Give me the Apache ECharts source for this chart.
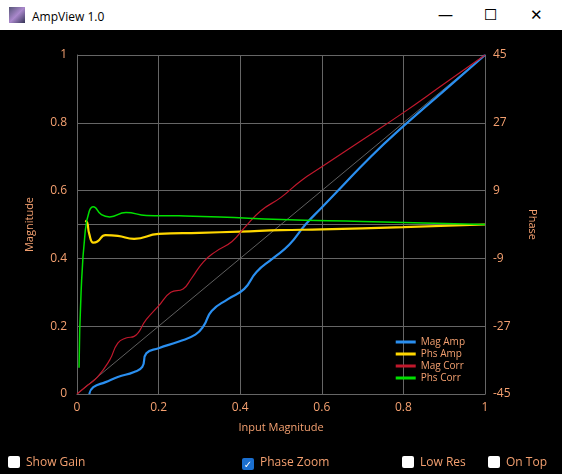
<!DOCTYPE html>
<html><head><meta charset="utf-8">
<script src="https://cdn.jsdelivr.net/npm/echarts@6/dist/echarts.min.js"></script>
<style>
body{margin:0;width:562px;height:474px;overflow:hidden;background:#000;font-family:"Open Sans","DejaVu Sans",sans-serif;}
#bar{position:absolute;left:0;top:0;width:562px;height:30px;background:#fff;color:#000;font-size:12px;}
#bar .t{position:absolute;left:32px;top:8px;}
#bar .ic{position:absolute;left:9px;top:7px;width:16px;height:16px;background:linear-gradient(135deg,#557,#a8c 50%,#335);}
#bar .b{position:absolute;top:4px;font-size:15px;}
#main{position:absolute;left:0;top:30px;width:562px;height:444px;}
.cb{position:absolute;top:453px;color:#f4a070;font-size:12px;}
.cb span{display:inline-block;width:12px;height:12px;border-radius:2px;background:#fff;vertical-align:-2px;margin-right:6px;}
.cb span.on{background:#1a6fd0;color:#fff;font-size:10px;text-align:center;line-height:12px;}
</style></head><body>
<div id="bar"><div class="ic"></div><div class="t">AmpView 1.0</div>
<div class="b" style="left:438px">&#8212;</div><div class="b" style="left:484px">&#9744;</div><div class="b" style="left:530px">&#10005;</div></div>
<div id="main"></div>
<div class="cb" style="left:8px"><span></span>Show Gain</div>
<div class="cb" style="left:242px"><span class="on">&#10003;</span>Phase Zoom</div>
<div class="cb" style="left:402px"><span></span>Low Res</div>
<div class="cb" style="left:488px"><span></span>On Top</div>
<script>
// magnitude curves (left axis)
var magAmp = [[0.03,0],[0.04,0.02],[0.07,0.035],[0.1,0.05],[0.14,0.065],[0.16,0.08],[0.17,0.12],[0.2,0.135],[0.25,0.155],[0.29,0.175],[0.31,0.2],[0.33,0.245],[0.37,0.28],[0.41,0.31],[0.44,0.36],[0.48,0.4],[0.52,0.44],[0.56,0.5],[0.6,0.55],[0.64,0.6],[0.72,0.7],[0.8,0.79],[0.9,0.895],[1,1]];
var magCorr = [[0.0,0.0],[0.02,0.02],[0.05,0.05],[0.08,0.1],[0.1,0.15],[0.12,0.165],[0.14,0.17],[0.17,0.22],[0.2,0.26],[0.23,0.3],[0.26,0.31],[0.28,0.34],[0.31,0.39],[0.34,0.42],[0.38,0.45],[0.41,0.49],[0.45,0.54],[0.5,0.58],[0.55,0.63],[0.6,0.67],[0.7,0.75],[0.8,0.83],[0.9,0.915],[1,1]];
var diag = [[0,0],[1,1]];
// phase curves (right axis, degrees)
var phsAmp = [[0.02,1],[0.025,0.5],[0.03,-2.5],[0.04,-4.8],[0.05,-4.5],[0.07,-2.8],[0.1,-3.0],[0.14,-3.8],[0.2,-2.5],[0.3,-2.2],[0.4,-1.9],[0.5,-1.5],[0.6,-1.3],[0.8,-0.7],[1,0]];
var phsCorr = [[0.005,-38],[0.01,-18],[0.02,-2],[0.03,3.5],[0.04,4.7],[0.06,2.6],[0.08,2.0],[0.12,3.2],[0.17,2.4],[0.25,2.3],[0.35,2.0],[0.5,1.3],[0.7,0.8],[1,0]];
var magTicks = [0,0.2,0.4,0.6,0.8,1];
var phsTicks = [-45,-27,-9,9,27,45];

var lab = '#f4a070';
var chart = echarts.init(document.getElementById('main'));
var axLine = {lineStyle:{color:'#666'}};
chart.setOption({
  backgroundColor:'#000',
  animation:false,
  textStyle:{fontFamily:'"Open Sans","DejaVu Sans",sans-serif'},
  grid:{left:77,right:77,top:25,bottom:80},
  legend:{orient:'vertical',right:92,bottom:86,itemWidth:20,itemHeight:3,itemGap:2,icon:'rect',
    textStyle:{color:lab,fontSize:10},data:['Mag Amp','Phs Amp','Mag Corr','Phs Corr']},
  xAxis:{type:'value',min:0,max:1,interval:0.2,name:'Input Magnitude',nameLocation:'middle',nameGap:28,
    nameTextStyle:{color:lab,fontSize:11},axisLabel:{color:lab,fontSize:12},
    axisLine:axLine,axisTick:{show:false},splitLine:{lineStyle:{color:'#666'}}},
  yAxis:[
    {type:'value',min:0,max:1,interval:0.2,name:'Magnitude',nameLocation:'middle',nameGap:42,
     nameTextStyle:{color:lab,fontSize:11},axisLabel:{color:lab,fontSize:12,margin:10},
     axisLine:{show:true,lineStyle:{color:'#666'}},axisTick:{show:false},splitLine:{lineStyle:{color:'#666'}}},
    {type:'value',min:-45,max:45,interval:18,name:'Phase',nameLocation:'middle',nameGap:42,nameRotate:-90,
     nameTextStyle:{color:lab,fontSize:11},axisLabel:{color:lab,fontSize:12,margin:8},
     axisLine:{show:true,lineStyle:{color:'#666'}},axisTick:{show:false},splitLine:{show:false}}
  ],
  series:[
    {type:'line',data:diag,symbol:'none',silent:true,lineStyle:{color:'#777',width:0.8}},
    {type:'line',yAxisIndex:1,data:[[0,0],[1,0]],symbol:'none',silent:true,lineStyle:{color:'#666',width:1}},
    {name:'Mag Amp',type:'line',data:magAmp,smooth:true,symbol:'none',color:'#2a8ff0',lineStyle:{width:2.2}},
    {name:'Phs Amp',type:'line',yAxisIndex:1,data:phsAmp,smooth:true,symbol:'none',color:'#ffd700',lineStyle:{width:2.2}},
    {name:'Mag Corr',type:'line',data:magCorr,smooth:true,symbol:'none',color:'#c0182c',lineStyle:{width:1.2}},
    {name:'Phs Corr',type:'line',yAxisIndex:1,data:phsCorr,smooth:true,symbol:'none',color:'#00e000',lineStyle:{width:1.5}}
  ]
});
</script>
</body></html>
